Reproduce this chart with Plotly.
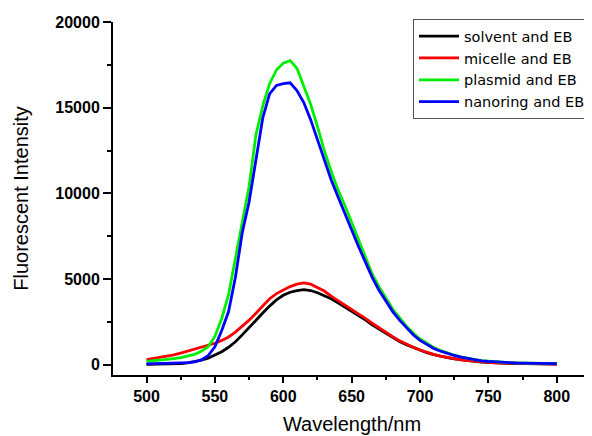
import plotly.graph_objs as go

# wavelength grid (nm)
wavelength = list(range(500, 805, 5))

solvent = [20, 25, 30, 40, 50, 70, 110, 170, 260, 380,
           550, 760, 1020, 1340, 1740, 2180, 2620, 3020, 3420, 3780,
           4050, 4230, 4320, 4380, 4330, 4200, 4020, 3850, 3620, 3380,
           3120, 2900, 2620, 2330, 2080, 1850, 1600, 1360, 1170, 1000,
           850, 700, 590, 490, 410, 340, 280, 230, 190, 160,
           130, 110, 95, 85, 75, 65, 60, 55, 50, 45, 40]

micelle = [300, 360, 420, 500, 580, 680, 800, 920, 1030, 1120,
           1250, 1420, 1620, 1900, 2240, 2600, 3000, 3450, 3850, 4150,
           4380, 4560, 4700, 4780, 4700, 4500, 4300, 4000, 3750, 3480,
           3220, 2950, 2700, 2420, 2150, 1880, 1640, 1400, 1200, 1020,
           860, 720, 600, 500, 420, 350, 290, 240, 200, 165,
           135, 115, 100, 88, 78, 70, 62, 56, 50, 46, 42]

plasmid = [200, 230, 270, 310, 360, 420, 500, 600, 780, 1050,
           1650, 2700, 4100, 6200, 8500, 10400, 13400, 15100, 16400, 17200,
           17600, 17750, 17300, 16300, 15200, 13900, 12500, 11300, 10200, 9300,
           8300, 7300, 6400, 5300, 4550, 3900, 3250, 2750, 2250, 1850,
           1500, 1250, 1000, 830, 680, 560, 460, 370, 300, 240,
           200, 170, 140, 120, 105, 95, 85, 75, 70, 65, 60]

nanoring = [50, 55, 60, 65, 75, 90, 120, 170, 280, 520,
            1050, 2000, 3100, 5100, 7700, 9500, 12000, 14400, 15800, 16300,
            16400, 16450, 16000, 15300, 14300, 13100, 11900, 10800, 9800, 8800,
            7900, 6900, 6000, 5100, 4350, 3700, 3100, 2600, 2150, 1750,
            1420, 1160, 950, 790, 650, 540, 440, 360, 290, 230,
            190, 160, 135, 115, 100, 90, 80, 72, 66, 62, 58]

names = ["solvent and EB", "micelle and EB", "plasmid and EB", "nanoring and EB"]
colors = ["#000000", "#ff0000", "#00ee00", "#0000ff"]
series = [solvent, micelle, plasmid, nanoring]

x_ticks = [500, 550, 600, 650, 700, 750, 800]
y_ticks = [0, 5000, 10000, 15000, 20000]

font_family = "Arial, Liberation Sans, sans-serif"

fig = go.Figure()
for name, color, ys in zip(names, colors, series):
    fig.add_trace(go.Scatter(x=wavelength, y=ys, name=name, mode="lines",
                             line=dict(color=color, width=2.8)))

# page body has an 8px margin, so the figure is 8px smaller than the window
fig.update_layout(
    width=584, height=428, autosize=False,
    margin=dict(l=105, r=1, t=14, b=61),
    plot_bgcolor="white", paper_bgcolor="white",
    font=dict(family=font_family, color="black"),
    showlegend=True,
    legend=dict(x=1, y=1.008, xanchor="right", yanchor="top",
                bgcolor="white", bordercolor="#555555", borderwidth=1,
                font=dict(size=14.5, family="DejaVu Sans, Arial, sans-serif"),
                tracegroupgap=0, itemwidth=40),
)

fig.update_xaxes(
    range=[475.5, 825], showgrid=False, zeroline=False, automargin=False,
    showline=True, linecolor="black", linewidth=2,
    tickmode="array", tickvals=x_ticks, ticktext=[str(v) for v in x_ticks],
    ticks="outside", ticklen=6, tickwidth=2, tickcolor="black",
    tickfont=dict(size=16, family=font_family, weight="bold"),
    minor=dict(tickvals=[525, 575, 625, 675, 725, 775, 825], ticks="outside", ticklen=3, tickwidth=2, tickcolor="black"),
    title=dict(text="Wavelength/nm", font=dict(size=20), standoff=13),
)

fig.update_yaxes(
    range=[-600, 20000], showgrid=False, zeroline=False, automargin=False,
    showline=True, linecolor="black", linewidth=2,
    tickmode="array", tickvals=y_ticks, ticktext=[str(v) for v in y_ticks],
    ticks="outside", ticklen=8, tickwidth=2, tickcolor="black",
    tickfont=dict(size=16, family=font_family, weight="bold"),
    minor=dict(tickvals=[2500, 7500, 12500, 17500], ticks="outside", ticklen=4, tickwidth=2, tickcolor="black"),
    title=dict(text="Fluorescent Intensity", font=dict(size=20), standoff=21),
)

fig.write_html("out.html")
